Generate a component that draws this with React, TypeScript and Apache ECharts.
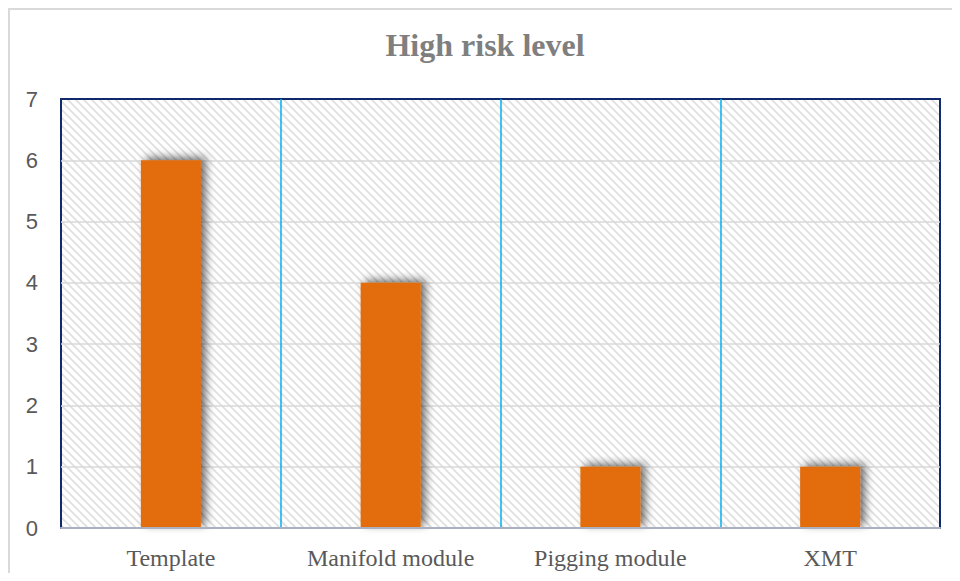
import React, { useEffect, useRef } from "react";
import * as echarts from "echarts";

const titleText = "High risk level";
const categories = ["Template", "Manifold module", "Pigging module", "XMT"];
const highRiskCounts = [6, 4, 1, 1];
const yMin = 0;
const yMax = 7;
const yInterval = 1;

function makeHatch(): HTMLCanvasElement {
  const c = document.createElement("canvas");
  c.width = 8;
  c.height = 8;
  const ctx = c.getContext("2d")!;
  ctx.fillStyle = "#ffffff";
  ctx.fillRect(0, 0, 8, 8);
  ctx.strokeStyle = "#e0e0e0";
  ctx.lineWidth = 1.8;
  ctx.beginPath();
  ctx.moveTo(-2, -2);
  ctx.lineTo(10, 10);
  ctx.moveTo(-2, 6);
  ctx.lineTo(2, 10);
  ctx.moveTo(6, -2);
  ctx.lineTo(10, 2);
  ctx.stroke();
  return c;
}

export default function App() {
  const ref = useRef<HTMLDivElement>(null);
  useEffect(() => {
    if (!ref.current) return;
    const chart = echarts.init(ref.current, null, { renderer: "svg" });
    const hatch = makeHatch();
    chart.setOption({
      animation: false,
      backgroundColor: "#ffffff",
      title: {
        text: titleText,
        left: "center",
        top: 19,
        padding: 0,
        textStyle: {
          fontFamily: "Liberation Serif",
          fontWeight: "bold",
          fontSize: 32,
          color: "#7f7f7f",
        },
      },
      grid: {
        left: 51,
        top: 89,
        width: 879,
        height: 429,
        show: true,
        borderColor: "#102a6b",
        borderWidth: 2,
        backgroundColor: {
          image: hatch,
          repeat: "repeat",
          imageWidth: 8,
          imageHeight: 8,
        },
        containLabel: false,
      },
      xAxis: [
        {
          type: "category",
          data: categories,
          z: 3,
          axisLine: { show: true, lineStyle: { color: "#a9b0c0", width: 2 } },
          axisTick: { show: false },
          splitLine: { show: false },
          axisLabel: {
            margin: 18,
            fontFamily: "Liberation Serif",
            fontSize: 24,
            color: "#595959",
          },
        },
        {
          type: "value",
          min: 0,
          max: categories.length,
          interval: 1,
          position: "top",
          z: 1,
          axisLine: { show: false },
          axisTick: { show: false },
          axisLabel: { show: false },
          splitLine: {
            show: true,
            showMinLine: false,
            showMaxLine: false,
            lineStyle: { color: "#00b0f0", width: 1.5 },
          },
        },
      ],
      yAxis: {
        type: "value",
        min: yMin,
        max: yMax,
        interval: yInterval,
        axisLine: { show: false },
        axisTick: { show: false },
        axisLabel: {
          margin: 23,
          fontFamily: "Liberation Sans",
          fontSize: 22,
          color: "#595959",
        },
        splitLine: {
          show: true,
          showMinLine: false,
          showMaxLine: false,
          lineStyle: { color: "#d9d9d9", width: 1.5 },
        },
      },
      series: [
        {
          type: "bar",
          xAxisIndex: 0,
          data: highRiskCounts,
          barWidth: 60,
          itemStyle: {
            color: "#e36c0a",
            shadowBlur: 8,
            shadowColor: "rgba(0,0,0,0.55)",
            shadowOffsetX: 5,
            shadowOffsetY: -3,
          },
        },
      ],
    });
    return () => chart.dispose();
  }, []);
  return (
    <div
      style={{
        width: 952,
        height: 565,
        boxSizing: "border-box",
        borderTop: "2px solid #d9d9d9",
        borderLeft: "2px solid #d9d9d9",
        overflow: "hidden",
      }}
    >
      <div ref={ref} style={{ width: 950, height: 563 }} />
    </div>
  );
}
